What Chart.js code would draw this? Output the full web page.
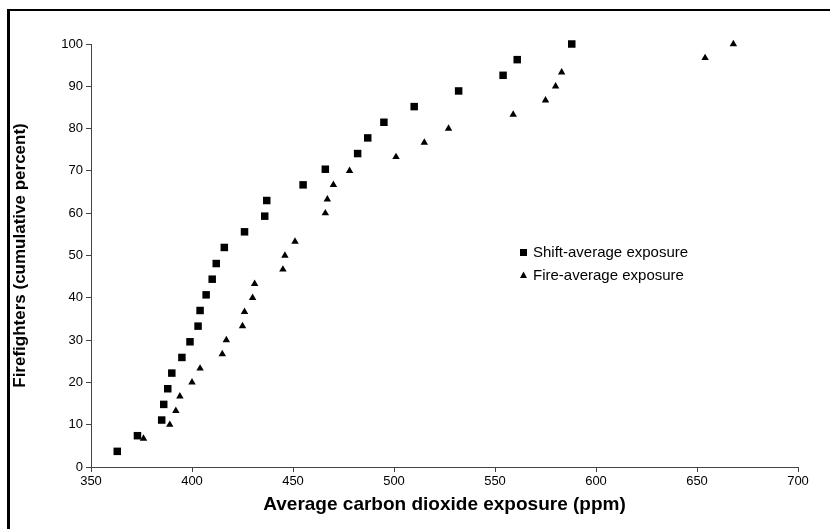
<!DOCTYPE html>
<html lang="en">
<head>
  <meta charset="UTF-8">
  <title>CO2 exposure</title>
  <script src="https://cdn.jsdelivr.net/npm/chart.js@4"></script>
  <style>
    body { margin: 0; background: #fff; }
    #wrap { position: relative; width: 830px; height: 529px; overflow: hidden; }
    #frame { position: absolute; left: 7px; top: 9px; right: -10px; bottom: -10px;
             border-left: 3px solid #000; border-top: 2px solid #000; pointer-events: none; }
  </style>
</head>
<body>
  <div id="wrap">
    <canvas id="chart" width="830" height="529"></canvas>
    <div id="frame"></div>
  </div>

  <script>
    // shift-average exposure (squares)
    const shiftX = [363, 373, 385, 386, 388, 390, 395, 399, 403, 404, 407, 410, 412, 416,
                    426, 436, 437, 455, 466, 482, 487, 495, 510, 532, 554, 561, 588];
    const shiftY = [3.7, 7.4, 11.1, 14.8, 18.5, 22.2, 25.9, 29.6, 33.3, 37.0, 40.7, 44.4, 48.1, 51.9,
                    55.6, 59.3, 63.0, 66.7, 70.4, 74.1, 77.8, 81.5, 85.2, 88.9, 92.6, 96.3, 100];

    // fire-average exposure (triangles)
    const fireX = [376, 389, 392, 394, 400, 404, 415, 417, 425, 426, 430, 431, 445, 446,
                   451, 466, 467, 470, 478, 501, 515, 527, 559, 575, 580, 583, 654, 668];
    const fireY = [6.7, 10, 13.3, 16.7, 20, 23.3, 26.7, 30, 33.3, 36.7, 40, 43.3, 46.7, 50,
                   53.3, 60, 63.3, 66.7, 70, 73.3, 76.7, 80, 83.3, 86.7, 90, 93.3, 96.7, 100];

    const seriesNames = ['Shift-average exposure', 'Fire-average exposure'];
    const xTitle = 'Average carbon dioxide exposure (ppm)';
    const yTitle = 'Firefighters (cumulative percent)';

    const FONT = "'Liberation Sans', Arial, sans-serif";
    const toPts = (xs, ys) => xs.map((x, i) => ({ x, y: ys[i] }));

    // little legend sitting inside the plot, like the original
    const innerLegend = {
      id: 'innerLegend',
      afterDatasetsDraw(chart) {
        const ctx = chart.ctx;
        ctx.save();
        ctx.fillStyle = '#000';
        ctx.font = '15px ' + FONT;
        ctx.textBaseline = 'middle';
        // square
        ctx.fillRect(520, 249, 7, 7);
        ctx.fillText(seriesNames[0], 533, 253);
        // triangle
        ctx.beginPath();
        ctx.moveTo(523.5, 271.5);
        ctx.lineTo(527, 278);
        ctx.lineTo(520, 278);
        ctx.closePath();
        ctx.fill();
        ctx.fillText(seriesNames[1], 533, 276);
        ctx.restore();
      }
    };

    const ctx = document.getElementById('chart').getContext('2d');
    new Chart(ctx, {
      type: 'scatter',
      data: {
        datasets: [
          { label: seriesNames[0], data: toPts(shiftX, shiftY), pointStyle: 'rect',
            pointRadius: 5.3, backgroundColor: '#000', borderWidth: 0, clip: false },
          { label: seriesNames[1], data: toPts(fireX, fireY), pointStyle: 'triangle',
            pointRadius: 4.3, backgroundColor: '#000', borderWidth: 0, clip: false }
        ]
      },
      options: {
        responsive: false,
        animation: false,
        layout: { padding: { left: 0, top: 44, right: 32, bottom: 0 } },
        plugins: { legend: { display: false }, tooltip: { enabled: false } },
        scales: {
          x: {
            type: 'linear', min: 350, max: 700,
            ticks: { stepSize: 50, color: '#000', padding: 2, maxRotation: 0,
                     font: { family: FONT, size: 13 } },
            grid: { drawOnChartArea: false, tickLength: 5, color: '#444' },
            border: { color: '#444', width: 1 },
            title: { display: true, text: xTitle, color: '#000',
                     font: { family: FONT, size: 19, weight: 'bold' },
                     padding: { top: 0, bottom: 13 } },
            afterFit(scale) { scale.height = 62; }
          },
          y: {
            type: 'linear', min: 0, max: 100,
            ticks: { stepSize: 10, color: '#000', padding: 3,
                     font: { family: FONT, size: 13 } },
            grid: { drawOnChartArea: false, tickLength: 5, color: '#444' },
            border: { color: '#444', width: 1 },
            title: { display: true, text: yTitle, color: '#000',
                     font: { family: FONT, size: 17, weight: 'bold' },
                     padding: { top: 10, bottom: 0 } },
            afterFit(scale) { scale.width = 91; }
          }
        }
      },
      plugins: [innerLegend]
    });
  </script>
</body>
</html>
